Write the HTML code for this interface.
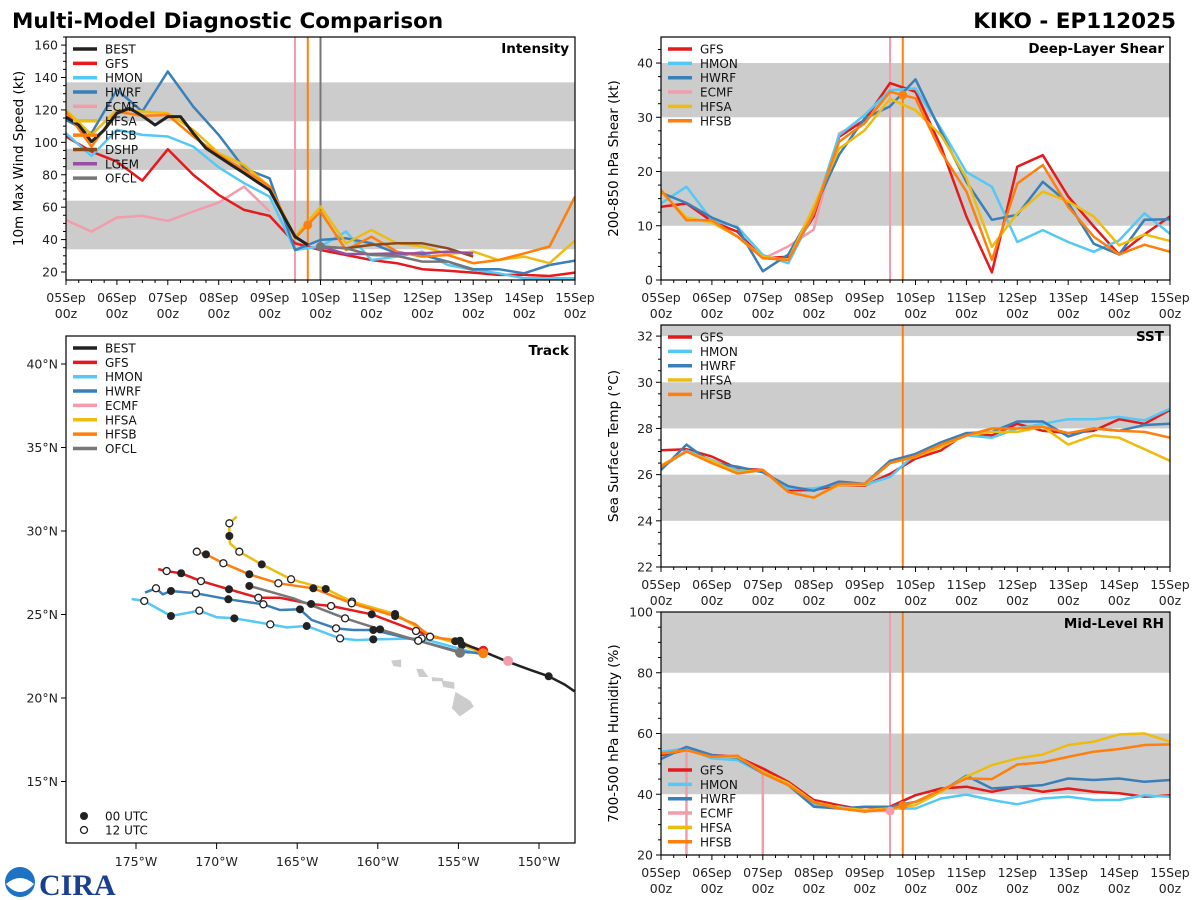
<!DOCTYPE html>
<html><head><meta charset="utf-8"><style>
html,body{margin:0;padding:0;background:#fff;}
svg{display:block;font-family:"DejaVu Sans","Liberation Sans",sans-serif;}
</style></head><body>
<svg id="chart" width="1200" height="900" viewBox="0 0 1200 900" xmlns="http://www.w3.org/2000/svg">
<rect x="0" y="0" width="1200" height="900" fill="#fff"/>
<text x="12" y="28" font-size="21.5" font-weight="bold" fill="#000">Multi-Model Diagnostic Comparison</text>
<text x="1176" y="28" font-size="21.5" font-weight="bold" fill="#000" text-anchor="end">KIKO - EP112025</text>
<g>
<circle cx="20" cy="882" r="15" fill="#1d72c4"/>
<path d="M6,884 Q20,872 34,884 Q20,900 6,884 Z" fill="#fff"/>
<text x="39" y="895" font-size="30" font-weight="bold" fill="#1b3f8f" font-family="Liberation Serif, serif">CIRA</text>
</g>
</svg>
<script>
// ---------- data ----------
const dayLabels = ['05Sep','06Sep','07Sep','08Sep','09Sep','10Sep','11Sep','12Sep','13Sep','14Sep','15Sep'];
const hourLabel = '00z';
// Intensity (kt)
const intBest = [115.5,110.7,100.4,107.6,118,121,116.3,110.7,115.9,115.9,105.6,96.3,91.2,86,81,75.7,70.6,56,41.8,36.7];
const intGfs  = [103.6,94.3,88.1,76.4,95.7,79.9,67.6,58.3,54.6,37.7,33.6,30.5,27.4,25.4,21.7,20.8,19.6,18.2,18.2,17.5,19.6];
const intHmon = [105.6,91.6,107.7,104.6,103.6,97.4,84.6,74.8,66.5,33.6,35.7,45,27.4,29.5,32.6,24.3,21.3,19.2,16.1,16.1,16.1];
const intHwrf = [113.8,105.6,132.4,119,143.7,122,104.6,84,77.8,33.6,39.8,40.8,37.7,31.5,30.5,26.4,21.7,21.7,19.2,24.3,27];
const intEcmf = [52.1,44.9,53.6,54.6,51.5,57.3,62.8,72.7,57.3];
const intHfsa = [120,104.6,120,119,118,107.7,93.3,86.1,72.7,41.8,60.3,37.7,45.9,37.7,35.7,31.1,32.6,27.4,29.5,25.4,39.4];
const intHfsb = [119,97.4,119,116.3,116.9,103.6,92.2,83,72.7,40.8,57.3,33.6,41.8,32.6,29.5,30.5,25.4,27.4,31.5,35.7,66.5];
const intDshp = [35.7,34.6,36.7,37.7,37.7,34.6,29.5];
const intLgem = [35.7,31.1,31.1,31.5,31.5,32.6,31.5];
const intOfcl = [35.7,34.6,30.5,29.9,26.4,26.4,21.3];
// Deep-layer shear (kt)
const shrGfs  = [13.5,14.1,10.8,8.9,4.0,4.3,11.7,26.4,29.5,36.3,34.7,24.6,11.7,1.4,20.9,23.0,15.4,9.9,4.7,8.4,11.7];
const shrHmon = [14.1,17.2,11.0,9.8,4.6,3.1,12.3,26.7,30.4,35.0,35.3,27.9,19.9,17.2,7.0,9.2,7.0,5.2,7.3,12.3,8.5];
const shrHwrf = [16.1,14.2,11.5,9.6,1.6,4.7,12.9,23.1,29.8,32.0,37.0,27.3,18.1,11.1,12.0,18.1,14.2,6.7,4.7,11.1,11.2];
const shrEcmf = [3.9,6.2,9.3,27,29.5,35];
const shrHfsa = [16.3,11.5,10.6,8.0,4.3,3.7,13.5,24.2,27.6,33.4,31.3,26.7,18.8,6.1,12.3,16.3,14.5,11.7,6.4,8.4,7.2];
const shrHfsb = [16.6,11.0,11.0,8.0,4.0,3.7,12.3,25.5,28.9,34.7,33.5,23.6,16.3,3.7,17.8,21.2,13.5,8.0,4.7,6.5,5.2];
// SST (C)
const sstGfs  = [27.06,27.1,26.78,26.27,26.2,25.33,25.33,25.55,25.52,26.03,26.7,27.05,27.8,27.7,28.2,27.9,27.8,27.9,28.4,28.2,28.8];
const sstHmon = [26.27,27.05,26.63,26.2,26.13,25.4,25.4,25.6,25.55,25.9,26.9,27.3,27.7,27.6,28.0,28.2,28.4,28.4,28.5,28.35,28.85];
const sstHwrf = [26.2,27.3,26.5,26.35,26.1,25.5,25.3,25.7,25.6,26.6,26.9,27.4,27.8,27.85,28.3,28.3,27.65,28.0,27.9,28.15,28.2];
const sstHfsa = [26.4,27.0,26.6,26.1,26.2,25.25,25.0,25.55,25.55,26.5,26.77,27.2,27.7,27.85,27.85,28.07,27.3,27.7,27.6,27.1,26.6];
const sstHfsb = [26.35,27.0,26.5,26.05,26.2,25.25,25.0,25.6,25.6,26.5,26.8,27.3,27.7,28.0,28.0,28.07,27.8,28.0,27.9,27.85,27.6];
// Mid-level RH (%)
const rhGfs  = [52.9,54.5,52.9,52.3,48.5,44.1,38.1,36.4,34.8,35.9,39.7,41.9,42.5,40.8,42.5,40.8,41.9,40.8,40.3,39.2,39.7];
const rhHmon = [54,55.1,51.8,51.2,46.9,43.6,36.4,35.9,34.3,35.3,35.3,38.6,39.9,38.1,36.7,38.6,39.2,38.1,38.1,39.7,39.2];
const rhHwrf = [51.6,55.6,52.9,52,46.9,43,35.9,35.3,35.9,35.9,37.5,40.8,46.1,41.9,42.5,43,45.2,44.7,45.2,44.1,44.7];
const rhEcmf = [53,55.6,53,52.5,48,44,38,36,34.5,34.5];
const rhEcmfDropTimes = [12,48];
const rhHfsa = [53.4,54.5,52.3,52.3,47.4,43.6,37.5,35.6,34.8,35.3,36.4,40.8,45.8,49.6,51.8,53.1,56.2,57.3,59.7,60,57.3];
const rhHfsb = [53.4,54.5,52.3,52.7,46.9,43,37.3,35.3,34.3,35.1,37.5,41.4,45.2,45,49.8,50.5,52.3,54,54.9,56.2,56.4];
// Track (lon, lat, marker: 0 none, 1 00 UTC, 2 12 UTC)
const trkBestLon = [-155.2,-154.0,-152.0,-150.6,-149.4,-148.4,-147.8];
const trkBestLat = [23.4,23.0,22.2,21.7,21.3,20.8,20.4];
const trkBestMk  = [1,0,0,0,1,0,0];
const trkGfsLon = [-173.62,-173.1,-172.2,-170.97,-169.23,-167.41,-166.07,-164.14,-162.9,-160.38,-157.63,-153.46];
const trkGfsLat = [27.72,27.6,27.47,27.0,26.51,26.0,26.0,25.63,25.51,25.01,24.01,22.83];
const trkGfsMk  = [0,2,1,2,1,2,0,1,2,1,2,0];
const trkHmonLon = [-175.27,-174.49,-172.83,-171.07,-169.99,-168.9,-166.67,-165.65,-164.41,-162.34,-161.31,-160.28,-157.28,-153.46];
const trkHmonLat = [25.93,25.81,24.91,25.23,24.83,24.77,24.41,24.23,24.31,23.57,23.47,23.51,23.57,22.57];
const trkHmonMk  = [0,2,1,2,0,1,2,0,1,2,0,1,2,0];
const trkHwrfLon = [-174.44,-173.76,-173.34,-172.83,-171.28,-169.27,-167.1,-166.07,-164.83,-164.1,-162.59,-161.52,-160.28,-157.49,-154.9,-153.46];
const trkHwrfLat = [26.31,26.57,26.21,26.41,26.27,25.91,25.61,25.27,25.31,24.67,24.17,24.07,24.07,23.43,22.77,22.68];
const trkHwrfMk  = [0,2,0,1,2,1,2,0,1,0,2,0,1,2,0,0];
const trkEcmfLon = [-151.92];
const trkEcmfLat = [22.22];
const trkEcmfMk  = [0];
const trkHfsaLon = [-168.75,-169.21,-169.21,-169.17,-168.59,-167.2,-165.38,-163.23,-161.6,-158.93,-156.76,-154.78,-153.47];
const trkHfsaLat = [30.86,30.46,29.7,29.26,28.76,28.0,27.11,26.53,25.77,25.03,23.77,23.17,22.7];
const trkHfsaMk  = [0,2,1,0,2,1,2,1,2,1,0,1,0];
const trkHfsbLon = [-171.4,-171.23,-170.66,-169.58,-167.97,-166.17,-164.0,-161.62,-158.93,-157.69,-156.76,-154.9,-153.46];
const trkHfsbLat = [28.85,28.76,28.6,28.07,27.41,26.87,26.57,25.67,24.91,24.43,23.67,23.43,22.68];
const trkHfsbMk  = [0,2,1,2,1,2,1,2,1,0,2,1,0];
const trkOfclLon = [-167.97,-165.24,-162.03,-159.86,-157.49,-154.9];
const trkOfclLat = [26.71,25.97,24.77,24.11,23.43,22.71];
const trkOfclMk  = [1,0,2,1,2,0];
const latTicks = [40,35,30,25,20,15];
const lonTicks = [-175,-170,-165,-160,-155,-150];

// ---------- helpers ----------
const NS = 'http://www.w3.org/2000/svg';
const svg = document.getElementById('chart');
function el(tag, parent){ const e = document.createElementNS(NS, tag); parent.appendChild(e); return e; }
function geo(e, o){ for (const k in o) e.setAttribute(k, o[k]); return e; }
const C = {BEST:'#222222',GFS:'#e41a1c',HMON:'#55c8f5',HWRF:'#3a7fb8',ECMF:'#f29cac',HFSA:'#eebb11',HFSB:'#ff7f0e',DSHP:'#8b4a1c',LGEM:'#984ea3',OFCL:'#777777'};
let clipId = 0;

function drawPanel(p){
  const g = el('g', svg);
  
  
  const tx = t => p.x0 + t/240*(p.x1-p.x0);
  const ty = v => p.y1 - (v-p.vmin)/(p.vmax-p.vmin)*(p.y1-p.y0);
  const cid = 'clip' + (clipId++);
  const cp = el('clipPath', g); cp.setAttribute('id', cid);
  geo(el('rect', cp), {x:p.x0, y:p.y0, width:p.x1-p.x0, height:p.y1-p.y0});
  const pg = el('g', g); pg.setAttribute('clip-path', 'url(#'+cid+')');
  
  
  p.bands.forEach(b => {
    const r = el('rect', pg);
    geo(r, {x:p.x0, y:ty(b[1]), width:p.x1-p.x0, height:ty(b[0])-ty(b[1]), fill:'#cccccc'});
    
    
  });
  p.vlines.forEach(v => {
    const l = el('line', pg);
    geo(l, {x1:tx(v.t), x2:tx(v.t), y1:p.y0, y2:p.y1, stroke:v.c, 'stroke-width':2});
    
    
  });
  (p.drops||[]).forEach(d => {
    const l = el('line', pg);
    geo(l, {x1:tx(d.t), x2:tx(d.t), y1:ty(d.v), y2:p.y1+5, stroke:d.c, 'stroke-width':2.5});
    
    
  });
  p.series.forEach(s => {
    const pts = s.vals.map((v,i) => tx(s.t0+i*s.step).toFixed(1)+','+ty(v).toFixed(1)).join(' ');
    const pl = el('polyline', pg);
    geo(pl, {points:pts, fill:'none', stroke:C[s.n], 'stroke-width':s.n==='BEST'?3:2.5, 'stroke-linejoin':'round'});
    
    
  });
  (p.dots||[]).forEach(d => {
    const s = p.series.find(q => q.n===d.n);
    const f = (d.t - s.t0)/s.step; const i = Math.min(Math.floor(f), s.vals.length-2); const w = f-i;
    const v = s.vals[i]*(1-w) + s.vals[i+1]*w;
    const c = el('circle', pg);
    geo(c, {cx:tx(d.t), cy:ty(v), r:4.5, fill:C[d.n]});
    
    
  });
  const fr = el('rect', g);
  geo(fr, {x:p.x0, y:p.y0, width:p.x1-p.x0, height:p.y1-p.y0, fill:'none', stroke:'#000', 'stroke-width':1.2});
  
  
  for (let v = Math.ceil(p.vmin/p.minor)*p.minor; v <= p.vmax+1e-6; v += p.minor){
    const major = Math.abs(v/p.major - Math.round(v/p.major)) < 1e-6;
    const l = el('line', g);
    geo(l, {x1:p.x0, x2:p.x0-(major?5:3), y1:ty(v), y2:ty(v), stroke:'#000', 'stroke-width':1});
    
    
    if (major){
      const t = el('text', g);
      geo(t, {x:p.x0-8, y:ty(v)+4.5, 'font-size':12.5, 'text-anchor':'end', fill:'#222'});
      t.textContent = String(Math.round(v));
      
      
    }
  }
  for (let h = 0; h <= 240; h += 6){
    const major = h % 24 === 0;
    const l = el('line', g);
    geo(l, {x1:tx(h), x2:tx(h), y1:p.y1, y2:p.y1+(major?5:3), stroke:'#000', 'stroke-width':1});
    
    
    if (major){
      const t1 = el('text', g);
      geo(t1, {x:tx(h), y:p.y1+22, 'font-size':12.5, 'text-anchor':'middle', fill:'#222'});
      t1.textContent = dayLabels[h/24];
      
      
      const t2 = el('text', g);
      geo(t2, {x:tx(h), y:p.y1+38, 'font-size':12.5, 'text-anchor':'middle', fill:'#222'});
      t2.textContent = hourLabel;
      
      
    }
  }
  const yl = el('text', g);
  const cy = (p.y0+p.y1)/2;
  geo(yl, {x:p.x0-43, y:cy, 'font-size':13.5, 'text-anchor':'middle', fill:'#000', transform:'rotate(-90 '+(p.x0-43)+' '+cy+')'});
  yl.textContent = p.ylabel;
  
  
  const tt = el('text', g);
  geo(tt, {x:p.x1-6, y:p.y0+16, 'font-size':13.5, 'font-weight':'bold', 'text-anchor':'end', fill:'#000'});
  tt.textContent = p.title;
  
  
  drawLegend(g, p.x0, p.legY, p.legend);
}

function drawLegend(g, x0, y, names){
  const lg = el('g', g);
  
  
  names.forEach((n,i) => {
    const yy = y + i*14.35;
    const l = el('line', lg);
    geo(l, {x1:x0+7, x2:x0+31, y1:yy, y2:yy, stroke:C[n], 'stroke-width':3.5});
    
    
    const t = el('text', lg);
    geo(t, {x:x0+39, y:yy+4.5, 'font-size':12, fill:'#111'});
    t.textContent = n;
    
    
  });
}

// ---------- panels ----------
drawPanel({name:'intensity', x0:66, x1:575, y0:37, y1:280, vmin:15.06, vmax:165, major:20, minor:5,
  bands:[[34,64],[83,96],[113,137]], ylabel:'10m Max Wind Speed (kt)', title:'Intensity', legY:49,
  vlines:[{t:108,c:C.ECMF},{t:114,c:C.HFSB},{t:120,c:C.OFCL}],
  series:[{n:'ECMF',t0:0,step:12,vals:intEcmf},{n:'GFS',t0:0,step:12,vals:intGfs},{n:'HMON',t0:0,step:12,vals:intHmon},
    {n:'HWRF',t0:0,step:12,vals:intHwrf},{n:'HFSA',t0:0,step:12,vals:intHfsa},{n:'HFSB',t0:0,step:12,vals:intHfsb},
    {n:'DSHP',t0:120,step:12,vals:intDshp},{n:'LGEM',t0:120,step:12,vals:intLgem},{n:'OFCL',t0:120,step:12,vals:intOfcl},
    {n:'BEST',t0:0,step:6,vals:intBest}],
  dots:[{n:'HFSB',t:114},{n:'OFCL',t:120}],
  legend:['BEST','GFS','HMON','HWRF','ECMF','HFSA','HFSB','DSHP','LGEM','OFCL']});

drawPanel({name:'shear', x0:661, x1:1170, y0:37, y1:280, vmin:0, vmax:44.8, major:10, minor:2.5,
  bands:[[10,20],[30,40]], ylabel:'200-850 hPa Shear (kt)', title:'Deep-Layer Shear', legY:49,
  vlines:[{t:108,c:C.ECMF},{t:114,c:C.HFSB}],
  series:[{n:'ECMF',t0:48,step:12,vals:shrEcmf},{n:'GFS',t0:0,step:12,vals:shrGfs},{n:'HMON',t0:0,step:12,vals:shrHmon},
    {n:'HWRF',t0:0,step:12,vals:shrHwrf},{n:'HFSA',t0:0,step:12,vals:shrHfsa},{n:'HFSB',t0:0,step:12,vals:shrHfsb}],
  dots:[{n:'HFSB',t:114}],
  legend:['GFS','HMON','HWRF','ECMF','HFSA','HFSB']});

drawPanel({name:'sst', x0:661, x1:1170, y0:325, y1:567, vmin:22, vmax:32.48, major:2, minor:0.5,
  bands:[[24,26],[28,30],[32,33]], ylabel:'Sea Surface Temp (°C)', title:'SST', legY:337,
  vlines:[{t:114,c:C.HFSB}],
  series:[{n:'GFS',t0:0,step:12,vals:sstGfs},{n:'HMON',t0:0,step:12,vals:sstHmon},{n:'HWRF',t0:0,step:12,vals:sstHwrf},
    {n:'HFSA',t0:0,step:12,vals:sstHfsa},{n:'HFSB',t0:0,step:12,vals:sstHfsb}],
  legend:['GFS','HMON','HWRF','HFSA','HFSB']});

drawPanel({name:'rh', x0:661, x1:1170, y0:612, y1:855, vmin:20, vmax:100, major:20, minor:5,
  bands:[[40,60],[80,100]], ylabel:'700-500 hPa Humidity (%)', title:'Mid-Level RH', legY:770,
  vlines:[{t:108,c:C.ECMF},{t:114,c:C.HFSB}],
  drops:rhEcmfDropTimes.map(t => ({t:t, v:rhEcmf[t/12], c:C.ECMF})),
  series:[{n:'ECMF',t0:0,step:12,vals:rhEcmf},{n:'GFS',t0:0,step:12,vals:rhGfs},{n:'HMON',t0:0,step:12,vals:rhHmon},
    {n:'HWRF',t0:0,step:12,vals:rhHwrf},{n:'HFSA',t0:0,step:12,vals:rhHfsa},{n:'HFSB',t0:0,step:12,vals:rhHfsb}],
  dots:[{n:'ECMF',t:108},{n:'HFSB',t:114}],
  legend:['GFS','HMON','HWRF','ECMF','HFSA','HFSB']});

// ---------- track ----------
(function(){
  const P = {x0:66, x1:575, y0:336, y1:843};
  const lx = lon => 539 + (lon+150)*16.12;
  const ly = lat => 698 - (lat-20)*16.7;
  const g = el('g', svg);
  
  
  const cp = el('clipPath', g); cp.setAttribute('id', 'trkclip');
  geo(el('rect', cp), {x:P.x0, y:P.y0, width:P.x1-P.x0, height:P.y1-P.y0});
  const pg = el('g', g); pg.setAttribute('clip-path', 'url(#trkclip)');
  
  
  const islands = [
    [[-159.1,22.2],[-158.6,22.25],[-158.6,21.9],[-159.0,21.95]],
    [[-157.55,21.7],[-157.25,21.7],[-156.95,21.3],[-157.4,21.3]],
    [[-156.6,21.2],[-156.0,21.15],[-156.0,21.05],[-156.6,21.05]],
    [[-156.0,21.0],[-155.3,20.9],[-155.3,20.6],[-155.9,20.7]],
    [[-155.15,20.3],[-154.3,19.8],[-154.1,19.5],[-154.9,18.95],[-155.35,19.4]]
  ];
  islands.forEach(poly => {
    const pp = el('polygon', pg);
    geo(pp, {points:poly.map(q => lx(q[0]).toFixed(1)+','+ly(q[1]).toFixed(1)).join(' '), fill:'#cccccc', stroke:'#cccccc', 'stroke-width':1.5});
    
    
  });
  const tracks = [
    {n:'HMON',lon:trkHmonLon,lat:trkHmonLat,mk:trkHmonMk},
    {n:'HWRF',lon:trkHwrfLon,lat:trkHwrfLat,mk:trkHwrfMk},
    {n:'GFS',lon:trkGfsLon,lat:trkGfsLat,mk:trkGfsMk},
    {n:'OFCL',lon:trkOfclLon,lat:trkOfclLat,mk:trkOfclMk},
    {n:'HFSA',lon:trkHfsaLon,lat:trkHfsaLat,mk:trkHfsaMk},
    {n:'HFSB',lon:trkHfsbLon,lat:trkHfsbLat,mk:trkHfsbMk},
    {n:'BEST',lon:trkBestLon,lat:trkBestLat,mk:trkBestMk},
    {n:'ECMF',lon:trkEcmfLon,lat:trkEcmfLat,mk:trkEcmfMk}
  ];
  tracks.forEach(tr => {
    if (tr.lon.length > 1){
      const pl = el('polyline', pg);
      geo(pl, {points:tr.lon.map((v,i) => lx(v).toFixed(1)+','+ly(tr.lat[i]).toFixed(1)).join(' '), fill:'none', stroke:C[tr.n], 'stroke-width':2.5, 'stroke-linejoin':'round'});
      
      
    }
  });
  tracks.forEach(tr => {
    tr.mk.forEach((m,i) => {
      if (!m) return;
      const c = el('circle', pg);
      if (m === 1) geo(c, {cx:lx(tr.lon[i]), cy:ly(tr.lat[i]), r:4, fill:'#222'});
      else geo(c, {cx:lx(tr.lon[i]), cy:ly(tr.lat[i]), r:3.5, fill:'#fff', stroke:'#222', 'stroke-width':1.3});
      
      
    });
  });
  ['GFS','OFCL','HFSB','ECMF'].forEach(n => {
    const tr = tracks.find(q => q.n === n);
    const i = tr.lon.length-1;
    const c = el('circle', pg);
    geo(c, {cx:lx(tr.lon[i]), cy:ly(tr.lat[i]), r:5, fill:C[n]});
    
    
  });
  const fr = el('rect', g);
  geo(fr, {x:P.x0, y:P.y0, width:P.x1-P.x0, height:P.y1-P.y0, fill:'none', stroke:'#000', 'stroke-width':1.2});
  
  
  latTicks.forEach(v => {
    const l = el('line', g);
    geo(l, {x1:P.x0, x2:P.x0-5, y1:ly(v), y2:ly(v), stroke:'#000'});
    
    
    const t = el('text', g);
    geo(t, {x:P.x0-8, y:ly(v)+4.5, 'font-size':12.5, 'text-anchor':'end', fill:'#222'});
    t.textContent = v + '°N';
    
    
  });
  lonTicks.forEach(v => {
    const l = el('line', g);
    geo(l, {x1:lx(v), x2:lx(v), y1:P.y1, y2:P.y1+6, stroke:'#000'});
    
    
    const t = el('text', g);
    geo(t, {x:lx(v), y:P.y1+23, 'font-size':12.5, 'text-anchor':'middle', fill:'#222'});
    t.textContent = Math.abs(v) + '°W';
    
    
  });
  const tt = el('text', g);
  geo(tt, {x:P.x1-6, y:P.y0+19, 'font-size':13.5, 'font-weight':'bold', 'text-anchor':'end', fill:'#000'});
  tt.textContent = 'Track';
  
  
  drawLegend(g, P.x0, 348, ['BEST','GFS','HMON','HWRF','ECMF','HFSA','HFSB','OFCL']);
  const c1 = el('circle', g);
  geo(c1, {cx:84, cy:816, r:4, fill:'#222'});
  
  
  const t1 = el('text', g);
  geo(t1, {x:105, y:820.5, 'font-size':12, fill:'#111'});
  t1.textContent = '00 UTC';
  
  
  const c2 = el('circle', g);
  geo(c2, {cx:84, cy:830, r:3.5, fill:'#fff', stroke:'#222', 'stroke-width':1.3});
  
  
  const t2 = el('text', g);
  geo(t2, {x:105, y:834.5, 'font-size':12, fill:'#111'});
  t2.textContent = '12 UTC';
  
  
})();
</script>
</body></html>
